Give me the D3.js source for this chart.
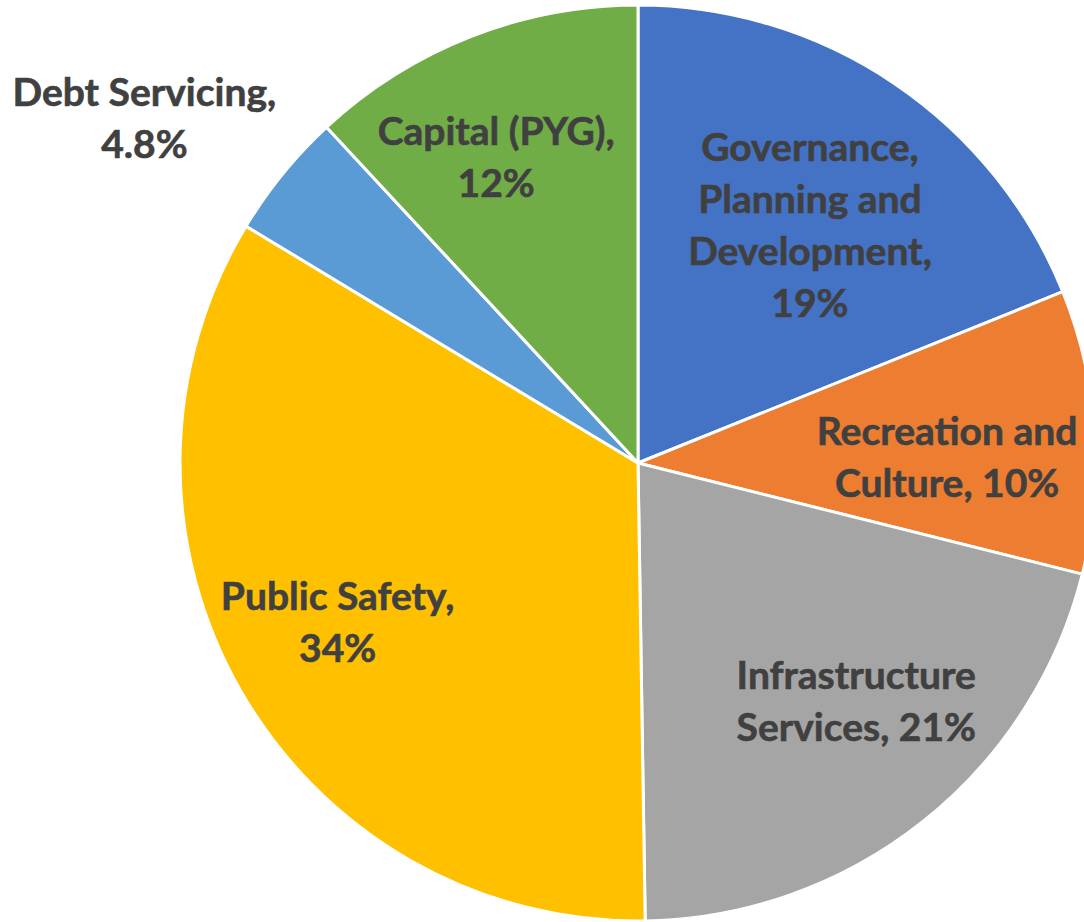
<!DOCTYPE html>
<html><head><meta charset="utf-8">
<script src="https://cdn.jsdelivr.net/npm/d3@7"></script>
<style>html,body{margin:0;padding:0;background:#fff;overflow:hidden}</style>
</head><body>
<svg id="chart" width="1084" height="922"></svg>
<script>
// Data (clockwise from 12 o'clock)
const categories = ["Governance, Planning and Development","Recreation and Culture","Infrastructure Services","Public Safety","Debt Servicing","Capital (PYG)"];
const values = [18.9, 10.0, 20.85, 33.9, 4.45, 11.9];
const labelLines = [
  ["Governance,","Planning and","Development,","19%"],
  ["Recreation and","Culture, 10%"],
  ["Infrastructure","Services, 21%"],
  ["Public Safety,","34%"],
  ["Debt Servicing,","4.8%"],
  ["Capital (PYG),","12%"]
];
const colors = ["#4472C4","#ED7D31","#A5A5A5","#FFC000","#5B9BD5","#70AD47"];
// label placement: radius as fraction of pie radius, angular shift (deg)
const labelRadius = [0.64, 0.675, 0.705, 0.742, 1.315, 0.735];
const labelShift = [1.9, 3.0, -4.1, 2.0, -4.2, -3.5];

const W = 1084, H = 922;
const cx = 638, cy = 463, R = 458;
const svg = d3.select("#chart");
const g = svg.append("g").attr("transform", `translate(${cx},${cy})`);

const pie = d3.pie().sort(null).value(d => d)(values);
const arc = d3.arc().innerRadius(0).outerRadius(R);

g.selectAll("path.slice").data(pie).join("path")
  .attr("class","slice")
  .attr("d", arc)
  .attr("fill", (d,i) => colors[i])
  .attr("stroke","#fff").attr("stroke-width",3).attr("stroke-linejoin","round");

const fs = 39, lh = 52;
pie.forEach((d,i) => {
  const a = (d.startAngle + d.endAngle)/2 + labelShift[i]*Math.PI/180;
  const r = labelRadius[i]*R;
  const x = Math.sin(a)*r, y = -Math.cos(a)*r;
  const lines = labelLines[i];
  const t = g.append("text")
    .attr("text-anchor","middle")
    .attr("font-family","Lato, 'Open Sans', sans-serif")
    .attr("font-weight","bold")
    .attr("font-size", fs)
    .attr("fill","#404040")
    .attr("stroke","#404040").attr("stroke-width",0.6);
  lines.forEach((ln,j) => {
    t.append("tspan").attr("x", x)
      .attr("y", y + (j - (lines.length-1)/2)*lh)
      .attr("dy","0.35em")
      .text(ln);
  });
});
</script>
</body></html>
